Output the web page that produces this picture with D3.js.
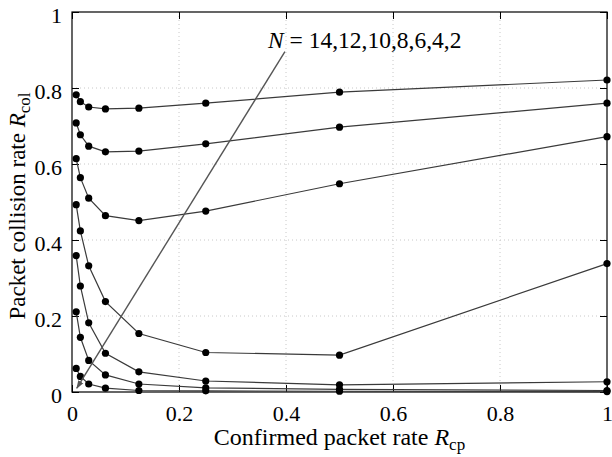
<!DOCTYPE html>
<html>
<head>
<meta charset="utf-8">
<script src="https://cdn.jsdelivr.net/npm/d3@7"></script>
<style>
  html, body { margin: 0; padding: 0; background: #fff; }
  svg { display: block; }
  text { font-family: "Liberation Serif", "Times New Roman", serif; fill: #000; }
</style>
</head>
<body>
<svg id="chart" width="612" height="457"></svg>
<script>
// ---- data ----
const xValues = [1/128, 1/64, 1/32, 1/16, 1/8, 1/4, 1/2, 1];
const seriesN = [14, 12, 10, 8, 6, 4, 2];
const rcolN14 = [0.782, 0.764, 0.750, 0.745, 0.747, 0.760, 0.789, 0.821];
const rcolN12 = [0.708, 0.677, 0.647, 0.632, 0.634, 0.653, 0.697, 0.760];
const rcolN10 = [0.614, 0.564, 0.510, 0.464, 0.451, 0.476, 0.548, 0.672];
const rcolN8  = [0.493, 0.424, 0.332, 0.238, 0.154, 0.104, 0.097, 0.338];
const rcolN6  = [0.359, 0.279, 0.182, 0.102, 0.053, 0.029, 0.019, 0.027];
const rcolN4  = [0.211, 0.144, 0.083, 0.045, 0.021, 0.011, 0.007, 0.004];
const rcolN2  = [0.062, 0.041, 0.021, 0.010, 0.004, 0.003, 0.002, 0.001];
const seriesValues = [rcolN14, rcolN12, rcolN10, rcolN8, rcolN6, rcolN4, rcolN2];
const xTicks = [0, 0.2, 0.4, 0.6, 0.8, 1];
const yTicks = [0, 0.2, 0.4, 0.6, 0.8, 1];
const annotationText = "N = " + seriesN.join(",");
const annotationStart = [0.398, 0.896];
const annotationEnd = [0.009, 0.010];

// ---- layout ----
const svg = d3.select("#chart");
const L = 72, R = 607, T = 12, B = 392;
const x = d3.scaleLinear().domain([0, 1]).range([L, R]);
const y = d3.scaleLinear().domain([0, 1]).range([B, T]);
const fmt = d => (d === 0 || d === 1) ? String(d) : d.toFixed(1);

// grid
const grid = svg.append("g");
grid.selectAll("line.gx").data(xTicks.filter(d => d > 0 && d < 1)).join("line")
  .attr("x1", d => x(d)).attr("x2", d => x(d)).attr("y1", T).attr("y2", B)
  .attr("stroke", "#c8c8c8").attr("stroke-width", 1).attr("stroke-dasharray", "1,3");
grid.selectAll("line.gy").data(yTicks.filter(d => d > 0 && d < 1)).join("line")
  .attr("y1", d => y(d)).attr("y2", d => y(d)).attr("x1", L).attr("x2", R)
  .attr("stroke", "#c8c8c8").attr("stroke-width", 1).attr("stroke-dasharray", "1,3");

// axes (ticks inside, all four sides)
const tickLen = 7;
const axB = svg.append("g").attr("transform", `translate(0,${B})`)
  .call(d3.axisBottom(x).tickValues(xTicks).tickSizeInner(-tickLen).tickSizeOuter(0).tickFormat(fmt));
const axT = svg.append("g").attr("transform", `translate(0,${T})`)
  .call(d3.axisTop(x).tickValues(xTicks).tickSizeInner(-tickLen).tickSizeOuter(0).tickFormat(""));
const axL = svg.append("g").attr("transform", `translate(${L},0)`)
  .call(d3.axisLeft(y).tickValues(yTicks).tickSizeInner(-tickLen).tickSizeOuter(0).tickFormat(fmt));
const axR = svg.append("g").attr("transform", `translate(${R},0)`)
  .call(d3.axisRight(y).tickValues(yTicks).tickSizeInner(-tickLen).tickSizeOuter(0).tickFormat(""));
[axB, axT, axL, axR].forEach(a => {
  a.attr("font-family", null).attr("font-size", null);
  a.select(".domain").remove();
  a.selectAll(".tick line").attr("stroke", "#000").attr("stroke-width", 1);
});
axB.selectAll(".tick text").style("font-family", "'Liberation Serif', serif").style("font-size", "22px")
  .attr("y", 0).attr("dy", 0).attr("transform", "translate(0,29)").attr("fill", "#000");
axL.selectAll(".tick text").style("font-family", "'Liberation Serif', serif").style("font-size", "22px")
  .attr("x", -10).attr("dy", 0).attr("transform", "translate(0,10)").attr("fill", "#000");

// frame
svg.append("rect").attr("x", L).attr("y", T).attr("width", R - L).attr("height", B - T)
  .attr("fill", "none").attr("stroke", "#000").attr("stroke-width", 1.2);

// series
const line = d3.line().x((d, i) => x(xValues[i])).y(d => y(d));
const sg = svg.append("g");
seriesValues.forEach((vals, k) => {
  sg.append("path").datum(vals).attr("d", line)
    .attr("fill", "none").attr("stroke", "#3a3a3a").attr("stroke-width", 1.2);
});
seriesValues.forEach((vals, k) => {
  sg.selectAll(null).data(vals).join("circle")
    .attr("cx", (d, i) => x(xValues[i])).attr("cy", d => y(d)).attr("r", 3.6).attr("fill", "#000");
});

// annotation
const defs = svg.append("defs");
defs.append("marker").attr("id", "arr").attr("viewBox", "0 0 10 10").attr("refX", 9).attr("refY", 5)
  .attr("markerWidth", 6).attr("markerHeight", 6).attr("orient", "auto")
  .append("path").attr("d", "M0,1.5 L10,5 L0,8.5 Z").attr("fill", "#555");
svg.append("line")
  .attr("x1", x(annotationStart[0])).attr("y1", y(annotationStart[1]))
  .attr("x2", x(annotationEnd[0])).attr("y2", y(annotationEnd[1]))
  .attr("stroke", "#555").attr("stroke-width", 1.4).attr("marker-end", "url(#arr)");
const at = svg.append("text").attr("x", 268).attr("y", 48).style("font-size", "23.5px");
at.append("tspan").attr("font-style", "italic").text(annotationText.slice(0, 1));
at.append("tspan").text(annotationText.slice(1));

// axis titles
const xt = svg.append("text").attr("x", (L + R) / 2).attr("y", 445)
  .attr("text-anchor", "middle").style("font-size", "24px");
xt.append("tspan").text("Confirmed packet rate ");
xt.append("tspan").attr("font-style", "italic").text("R");
xt.append("tspan").style("font-size", "17px").attr("dy", 5).text("cp");

const yt = svg.append("text").attr("transform", `translate(25,${(T + B) / 2 + 4}) rotate(-90)`)
  .attr("text-anchor", "middle").style("font-size", "23px");
yt.append("tspan").text("Packet collision rate ");
yt.append("tspan").attr("font-style", "italic").text("R");
yt.append("tspan").style("font-size", "17px").attr("dy", 5).text("col");
</script>
</body>
</html>
